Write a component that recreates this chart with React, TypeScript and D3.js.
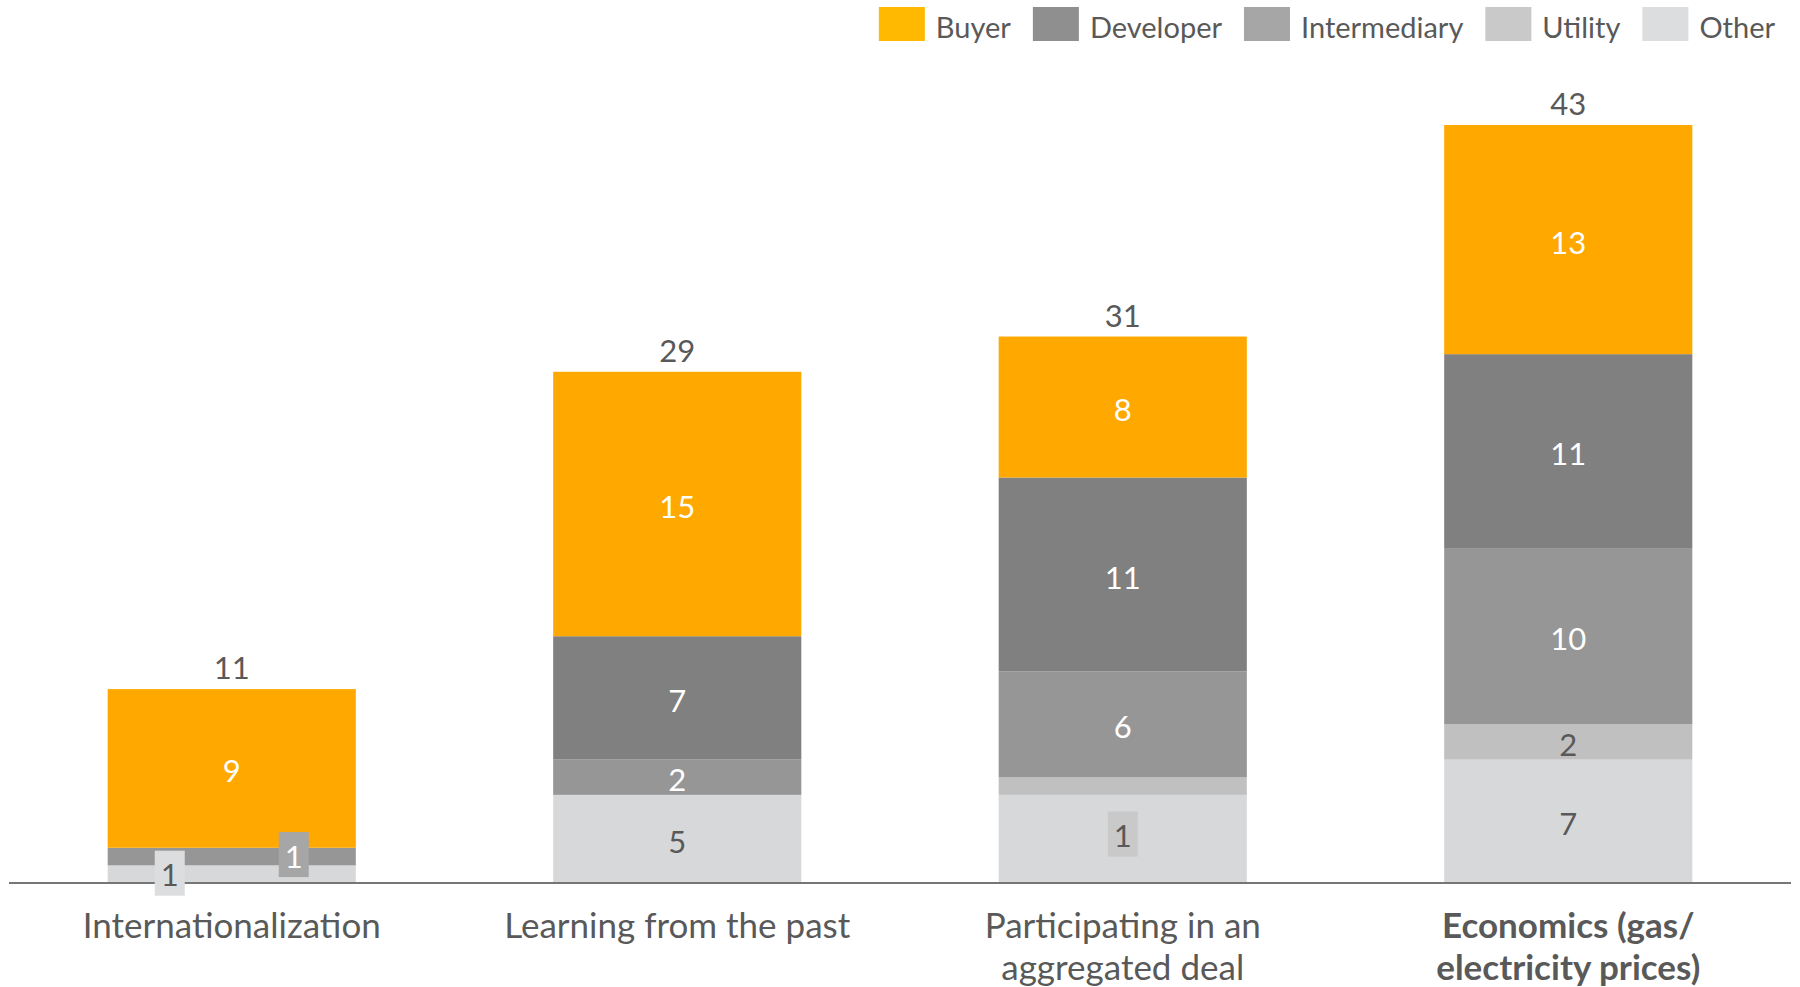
import React, { useEffect, useRef } from "react";
import * as d3 from "d3";

// ---- data ----
const categories = [
  "Internationalization",
  "Learning from the past",
  "Participating in an aggregated deal",
  "Economics (gas/ electricity prices)",
];
const categoryLines = [
  ["Internationalization"],
  ["Learning from the past"],
  ["Participating in an", "aggregated deal"],
  ["Economics (gas/", "electricity prices)"],
];
const boldCategory = [false, false, false, true];

const seriesNames = ["Buyer", "Developer", "Intermediary", "Utility", "Other"];
const buyer = [9, 15, 8, 13];
const developer = [0, 7, 11, 11];
const intermediary = [1, 2, 6, 10];
const utility = [0, 0, 1, 2];
const other = [1, 5, 5, 7];

// ---- styles ----
const barColors: Record<string, string> = {
  Buyer: "#FFA800",
  Developer: "#808080",
  Intermediary: "#969696",
  Utility: "#C0C0C0",
  Other: "#D7D8DA",
};
const legendColors: Record<string, string> = {
  Buyer: "#FFB900",
  Developer: "#8F8F8F",
  Intermediary: "#A6A6A6",
  Utility: "#C9C9C9",
  Other: "#DCDDDF",
};
const labelColors: Record<string, string> = {
  Buyer: "#FFFFFF",
  Developer: "#FFFFFF",
  Intermediary: "#FFFFFF",
  Utility: "#595959",
  Other: "#595959",
};
// manually moved labels (boxed): category index, series, dx, dy
const movedLabels = [
  { cat: 0, key: "Intermediary", dx: 62, dy: -2 },
  { cat: 0, key: "Other", dx: -62, dy: -1 },
  { cat: 2, key: "Utility", dx: 0, dy: 48 },
];
// labels covered by a moved label in the reference
const hiddenLabels = [{ cat: 2, key: "Other" }];

const FONT = "Lato, 'Open Sans', sans-serif";
const TEXT = "#595959";

export default function App() {
  const ref = useRef<SVGSVGElement | null>(null);

  useEffect(() => {
    const svg = d3.select(ref.current);
    svg.selectAll("*").remove();

    const axisY = 883;
    const topY = 125;

    const rows = categories.map((c, i) => ({
      cat: c,
      Buyer: buyer[i],
      Developer: developer[i],
      Intermediary: intermediary[i],
      Utility: utility[i],
      Other: other[i],
    }));
    const stackKeys = ["Other", "Utility", "Intermediary", "Developer", "Buyer"];
    const stacked = d3.stack<any>().keys(stackKeys)(rows);
    const totals = rows.map((r) => stackKeys.reduce((s, k) => s + (r as any)[k], 0));

    const x = d3
      .scaleBand<string>()
      .domain(categories)
      .range([9, 1791])
      .paddingInner(0.443)
      .paddingOuter(0.2215);
    const y = d3
      .scaleLinear()
      .domain([0, d3.max(totals) as number])
      .range([axisY, topY]);

    // bars
    const gBars = svg.append("g");
    stacked.forEach((layer) => {
      gBars
        .append("g")
        .selectAll("rect")
        .data(layer)
        .join("rect")
        .attr("x", (d: any) => x(d.data.cat) as number)
        .attr("width", x.bandwidth())
        .attr("y", (d: any) => y(d[1]))
        .attr("height", (d: any) => y(d[0]) - y(d[1]))
        .attr("fill", barColors[layer.key]);
    });

    // axis line
    svg
      .append("line")
      .attr("x1", 9)
      .attr("x2", 1791)
      .attr("y1", axisY)
      .attr("y2", axisY)
      .attr("stroke", "#767676")
      .attr("stroke-width", 2);

    // segment labels
    const gLab = svg.append("g").attr("font-family", FONT).attr("font-size", 31).attr("text-anchor", "middle");
    stacked.forEach((layer) => {
      layer.forEach((d: any, i: number) => {
        const v = d[1] - d[0];
        if (v <= 0) return;
        if (movedLabels.find((m) => m.cat === i && m.key === layer.key)) return;
        if (hiddenLabels.find((m) => m.cat === i && m.key === layer.key)) return;
        const cx = (x(d.data.cat) as number) + x.bandwidth() / 2;
        const cy = (y(d[0]) + y(d[1])) / 2;
        gLab
          .append("text")
          .attr("x", cx)
          .attr("y", cy + 14)
          .attr("fill", labelColors[layer.key])
          .text(v);
      });
    });
    // moved / boxed labels
    movedLabels.forEach((m) => {
      const layer = stacked.find((l) => l.key === m.key)!;
      const d: any = layer[m.cat];
      const v = d[1] - d[0];
      const cx = (x(d.data.cat) as number) + x.bandwidth() / 2 + m.dx;
      const cy = (y(d[0]) + y(d[1])) / 2 + m.dy;
      gLab
        .append("rect")
        .attr("x", cx - 15)
        .attr("y", cy - 22.5)
        .attr("width", 30)
        .attr("height", 45)
        .attr("fill", legendColors[m.key]);
      gLab
        .append("text")
        .attr("x", cx)
        .attr("y", cy + 13)
        .attr("fill", labelColors[m.key])
        .text(v);
    });

    // totals
    svg
      .append("g")
      .attr("font-family", FONT)
      .attr("font-size", 31)
      .attr("text-anchor", "middle")
      .attr("fill", TEXT)
      .selectAll("text")
      .data(categories)
      .join("text")
      .attr("x", (c) => (x(c) as number) + x.bandwidth() / 2)
      .attr("y", (c, i) => y(totals[i]) - 10)
      .text((c, i) => totals[i]);

    // category labels
    const gCat = svg.append("g").attr("font-family", FONT).attr("font-size", 35).attr("text-anchor", "middle").attr("fill", TEXT);
    categories.forEach((c, i) => {
      const t = gCat
        .append("text")
        .attr("x", (x(c) as number) + x.bandwidth() / 2)
        .attr("y", 938)
        .attr("font-weight", boldCategory[i] ? 700 : 400);
      categoryLines[i].forEach((ln, j) => {
        t.append("tspan")
          .attr("x", (x(c) as number) + x.bandwidth() / 2)
          .attr("y", 938 + j * 42)
          .text(ln);
      });
    });

    // legend
    const gLeg = svg.append("g").attr("font-family", FONT).attr("font-size", 29).attr("fill", TEXT);
    const widths = seriesNames.map((s) => {
      const t = gLeg.append("text").text(s);
      const w = (t.node() as SVGTextElement).getComputedTextLength();
      t.remove();
      return w;
    });
    const sw = 46, gapT = 11, gapI = 22;
    const total = d3.sum(widths) + seriesNames.length * (sw + gapT) + gapI * (seriesNames.length - 1);
    let lx = 1775 - total;
    seriesNames.forEach((s, i) => {
      gLeg.append("rect").attr("x", lx).attr("y", 7).attr("width", sw).attr("height", 34).attr("fill", legendColors[s]);
      gLeg.append("text").attr("x", lx + sw + gapT).attr("y", 38).text(s);
      lx += sw + gapT + widths[i] + gapI;
    });
  }, []);

  return (
    <svg
      ref={ref}
      width={1800}
      height={987}
      style={{ position: "absolute", left: 0, top: 0, background: "#fff" }}
    />
  );
}
